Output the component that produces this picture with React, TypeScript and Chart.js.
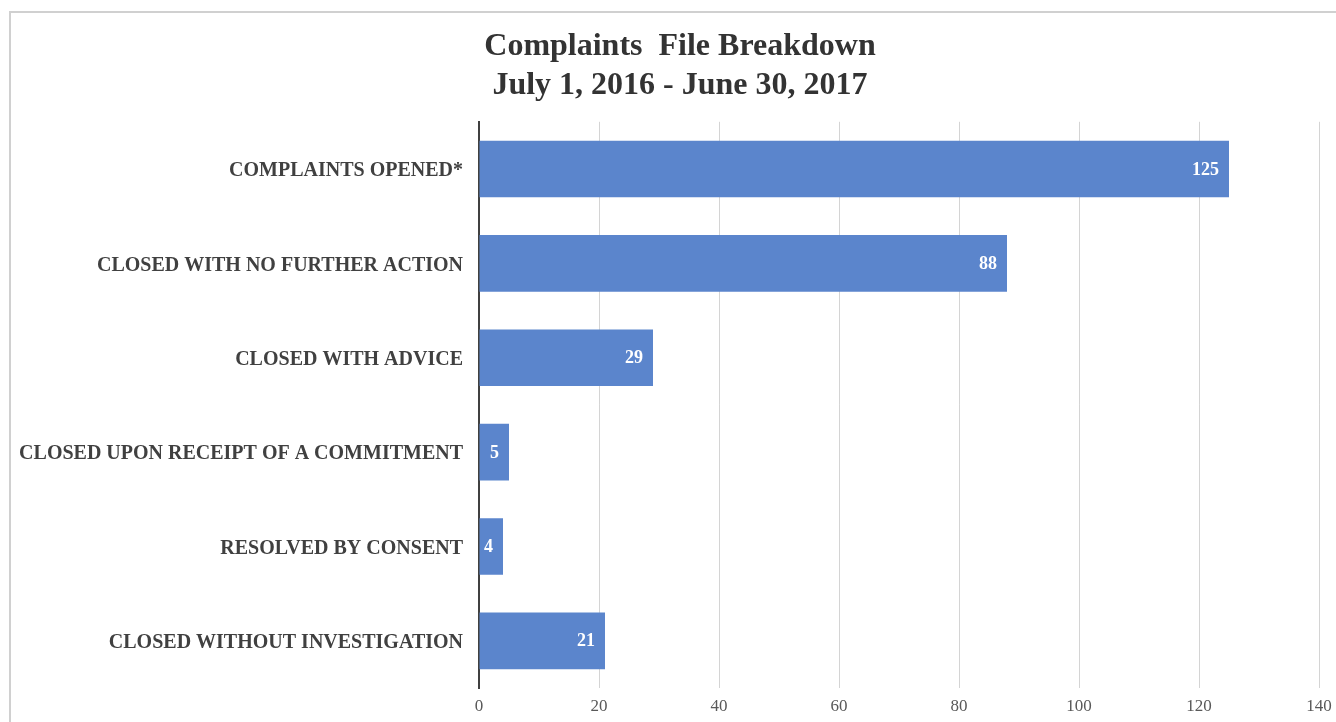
import React, { useEffect, useRef } from "react";
import { Chart, registerables } from "chart.js";

Chart.register(...registerables);

const categories = [
  "COMPLAINTS OPENED*",
  "CLOSED WITH NO FURTHER ACTION",
  "CLOSED WITH ADVICE",
  "CLOSED UPON RECEIPT OF A COMMITMENT",
  "RESOLVED BY CONSENT",
  "CLOSED WITHOUT INVESTIGATION",
];
const counts = [125, 88, 29, 5, 4, 21];
const titleLines = ["Complaints  File Breakdown", "July 1, 2016 - June 30, 2017"];
const xMin = 0;
const xMax = 140;
const xStep = 20;

const SERIF = "'Liberation Serif', 'Times New Roman', serif";

const barLabels = {
  id: "barLabels",
  afterDatasetsDraw(chart: any) {
    const ctx = chart.ctx;
    const meta = chart.getDatasetMeta(0);
    ctx.save();
    ctx.font = `bold 18px ${SERIF}`;
    ctx.fillStyle = "#ffffff";
    ctx.textAlign = "right";
    ctx.textBaseline = "middle";
    meta.data.forEach((el: any, i: number) => {
      const text = String(counts[i]);
      const w = ctx.measureText(text).width;
      const x = Math.max(el.x - 10, el.base + 3 + w);
      ctx.fillText(text, x, el.y + 1);
    });
    ctx.restore();
  },
};

// shift the title block so it is centred over the whole framed area
const titleShift = {
  id: "titleShift",
  afterLayout(chart: any) {
    if (chart.titleBlock) {
      chart.titleBlock.left = 41;
    }
  },
};

export default function App() {
  const ref = useRef<HTMLCanvasElement>(null);
  useEffect(() => {
    if (!ref.current) return;
    const chart = new Chart(ref.current, {
      type: "bar",
      data: {
        labels: categories,
        datasets: [
          {
            data: counts,
            backgroundColor: "#5B85CC",
            borderWidth: 0,
            categoryPercentage: 1,
            barPercentage: 0.6,
          },
        ],
      },
      options: {
        indexAxis: "y",
        animation: false,
        responsive: false,
        maintainAspectRatio: false,
        layout: { padding: { left: 0, right: 17, top: 0, bottom: 0 } },
        plugins: {
          legend: { display: false },
          tooltip: { enabled: false },
          title: {
            display: true,
            text: titleLines,
            color: "#333333",
            font: { family: SERIF, size: 32, weight: "bold", lineHeight: 1.2 },
            padding: { top: 28, bottom: 17 },
          },
        },
        scales: {
          x: {
            min: xMin,
            max: xMax,
            ticks: {
              stepSize: xStep,
              color: "#595959",
              font: { family: SERIF, size: 17 },
              padding: 8,
            },
            grid: { color: "#d4d4d4", lineWidth: 1, drawTicks: false },
            border: { display: false },
            afterFit: (s: any) => {
              s.height = 34;
              s.paddingRight = 0;
              s.paddingLeft = 0;
            },
          },
          y: {
            ticks: {
              color: "#404040",
              font: { family: SERIF, size: 20, weight: "bold" },
              padding: 16,
              labelOffset: 2,
            },
            grid: { display: false, drawTicks: false },
            border: { display: true, color: "#404040", width: 2 },
            afterFit: (s: any) => {
              s.width = 479;
            },
          },
        },
      },
      plugins: [barLabels, titleShift],
    });
    return () => chart.destroy();
  }, []);

  return (
    <div style={{ position: "fixed", left: 0, top: 0, width: 1336, height: 722, overflow: "hidden", background: "#fff" }}>
      <canvas ref={ref} width={1336} height={722} style={{ position: "absolute", left: 0, top: 0 }} />
      <div
        style={{
          position: "absolute",
          left: 9,
          top: 11,
          width: 1400,
          height: 800,
          borderLeft: "2px solid #d0d0d0",
          borderTop: "2px solid #d0d0d0",
          pointerEvents: "none",
        }}
      />
    </div>
  );
}
